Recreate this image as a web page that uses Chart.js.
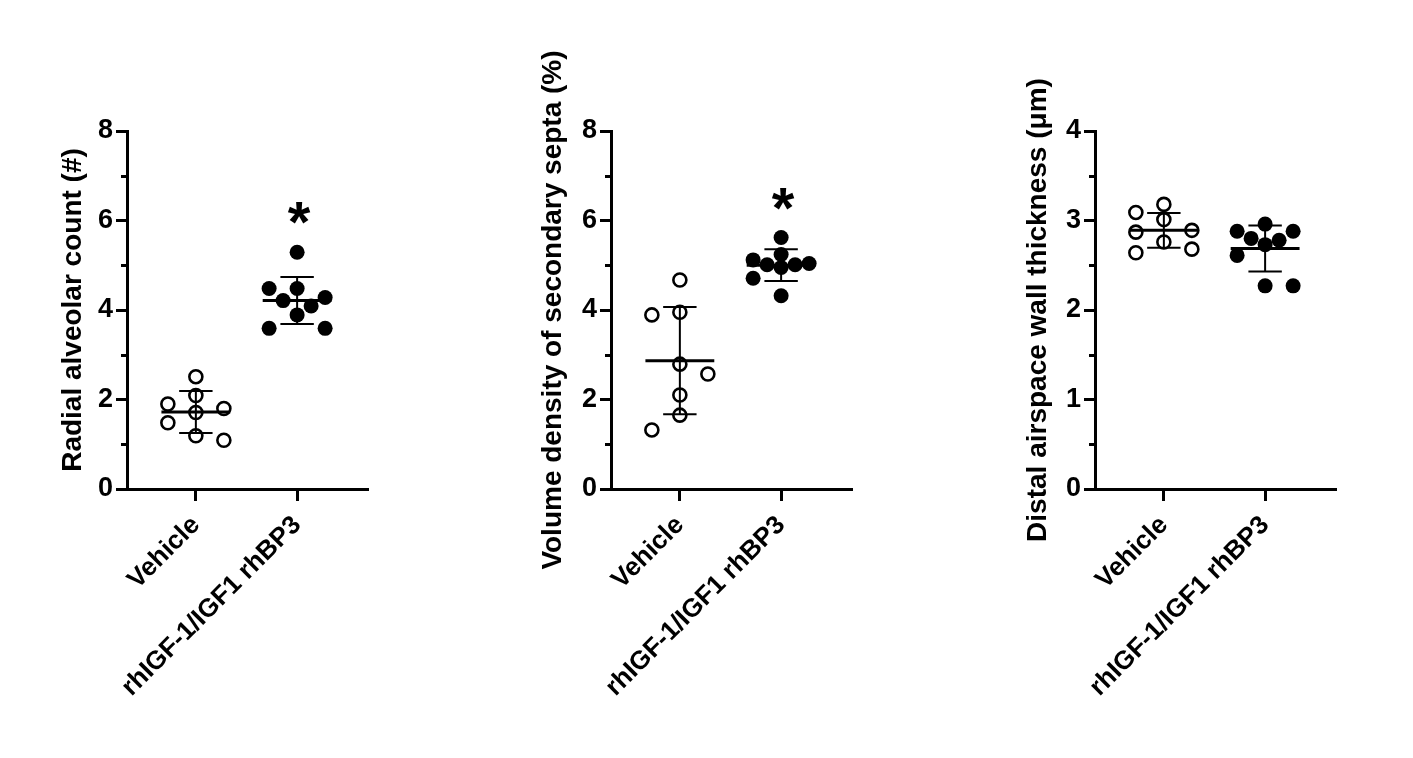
<!DOCTYPE html>
<html>
<head>
<meta charset="utf-8">
<script src="https://cdn.jsdelivr.net/npm/chart.js@4.4.0/dist/chart.umd.min.js"></script>
<style>
  html, body { margin: 0; padding: 0; background: #fff; }
  #wrap { position: relative; width: 1413px; height: 758px; overflow: hidden; }
  #wrap canvas { position: absolute; top: 0; display: block; }
</style>
</head>
<body>
<div id="wrap">
  <canvas id="c0" width="471" height="758" style="left:0px"></canvas>
  <canvas id="c1" width="471" height="758" style="left:471px"></canvas>
  <canvas id="c2" width="471" height="758" style="left:942px"></canvas>
</div>
<script>
// Data
const groups = ['Vehicle', 'rhIGF-1/IGF1 rhBP3'];

const radialVehicle = [2.51, 1.90, 2.09, 1.80, 1.71, 1.48, 1.09, 1.19];
const radialTreated = [5.29, 4.48, 4.48, 4.28, 4.21, 4.09, 3.89, 3.59, 3.59];

const septaVehicle = [4.67, 3.95, 3.89, 2.79, 2.57, 2.10, 1.65, 1.32];
const septaTreated = [5.62, 5.24, 5.12, 4.95, 5.04, 5.01, 5.01, 4.71, 4.32];

const wallVehicle = [3.18, 3.09, 3.01, 2.89, 2.87, 2.76, 2.68, 2.64];
const wallTreated = [2.96, 2.88, 2.88, 2.80, 2.78, 2.73, 2.61, 2.27, 2.27];

const yTitles = [
    'Radial alveolar count (#)',
    'Volume density of secondary septa (%)',
    'Distal airspace wall thickness (\u03bcm)'
];
const yMax = [8, 8, 4];
const yMajorStep = [2, 2, 1];
const significant = [true, true, false];

// Layout (pixels on the page)
const CANVAS_W = 471, CANVAS_H = 758;
const PLOT_TOP = 131, PLOT_BOTTOM = 489, PLOT_W = 241;
const X_MIN = 0.32, X_MAX = 2.70;
const panels = [
    { left: 0,   axisX: 127,  titleX: 73 },
    { left: 471, axisX: 611,  titleX: 553 },
    { left: 942, axisX: 1095, titleX: 1038 }
];
const FONT = "'Liberation Sans', Arial, sans-serif";
const yTickFont = { family: FONT, size: 27, weight: 'bold' };
const xTickFont = { family: FONT, size: 26, weight: 'bold' };
const titleFont = { family: FONT, size: 28, weight: 'bold', lineHeight: 1.2 };

const mean = a => a.reduce((s, v) => s + v, 0) / a.length;
const sd = a => {
    const m = mean(a);
    return Math.sqrt(a.reduce((s, v) => s + (v - m) * (v - m), 0) / (a.length - 1));
};

// straight black segment as its own dataset
const segment = (x1, y1, x2, y2, w) => ({
    data: [{ x: x1, y: y1 }, { x: x2, y: y2 }],
    showLine: true,
    borderColor: '#000',
    borderWidth: w,
    pointRadius: 0,
    pointHoverRadius: 0,
    order: 1
});

const summaryLines = (vals, c) => {
    const m = mean(vals), s = sd(vals);
    return [
        segment(c - 0.34, m, c + 0.34, m, 3),
        segment(c, m - s, c, m + s, 2),
        segment(c - 0.165, m + s, c + 0.165, m + s, 2),
        segment(c - 0.165, m - s, c + 0.165, m - s, 2)
    ];
};

// minor ticks between labelled ones + significance star
const extrasPlugin = {
    id: 'extras',
    afterDraw(chart, args, opts) {
        const ctx = chart.ctx;
        const ys = chart.scales.y, xs = chart.scales.x;
        const left = chart.chartArea.left;
        ctx.save();
        ctx.strokeStyle = '#000';
        ctx.lineWidth = 3;
        for (let v = opts.step / 2; v < opts.max; v += opts.step) {
            const py = Math.round(ys.getPixelForValue(v)) + 0.5;
            ctx.beginPath();
            ctx.moveTo(left - 6, py);
            ctx.lineTo(left, py);
            ctx.stroke();
        }
        if (opts.star) {
            const top = Math.max(...opts.treated);
            const px = xs.getPixelForValue(2);
            const py = ys.getPixelForValue(top) - 40;
            ctx.fillStyle = '#000';
            ctx.font = 'bold 58px ' + FONT;
            ctx.textAlign = 'center';
            ctx.textBaseline = 'alphabetic';
            ctx.fillText('*', px + 2, py + 30);
        }
        ctx.restore();
    }
};

// spread points sideways (two slots each way at most) so markers do not pile up
function swarm(chart, dsIndex, centre) {
    const xs = chart.scales.x, ys = chart.scales.y;
    const pxPerX = xs.getPixelForValue(1) - xs.getPixelForValue(0);
    const pts = chart.data.datasets[dsIndex].data;
    const STEP = 14, GAP = 15;
    const levels = [[0], [-2, 2], [-1, 1]];
    const placed = [];
    const minDist = (px, py) => placed.reduce((m, q) => Math.min(m, Math.hypot(q.px - px, q.py - py)), Infinity);
    const sideCount = sign => placed.filter(q => Math.sign(q.px) === sign).length;
    const idx = pts.map((p, i) => i).sort((a, b) => pts[b].y - pts[a].y);
    idx.forEach(i => {
        const py = ys.getPixelForValue(pts[i].y);
        let chosen = null, fallback = 0, fallbackDist = -1;
        for (const level of levels) {
            const free = level.filter(s => minDist(s * STEP, py) >= GAP);
            level.forEach(s => {
                const d = minDist(s * STEP, py);
                if (d > fallbackDist) { fallbackDist = d; fallback = s; }
            });
            if (free.length) {
                free.sort((a, b) => sideCount(Math.sign(a)) - sideCount(Math.sign(b)));
                chosen = free[0];
                break;
            }
        }
        if (chosen === null) chosen = fallback;
        placed.push({ px: chosen * STEP, py });
        pts[i].x = centre + chosen * STEP / pxPerX;
    });
}

function makePanel(i, vehicle, treated) {
    const L = panels[i];
    const ctx = document.getElementById('c' + i).getContext('2d');
    const chart = new Chart(ctx, {
        type: 'scatter',
        data: {
            datasets: [
                {
                    data: vehicle.map(v => ({ x: 1, y: v })),
                    pointRadius: 6.5,
                    pointBorderWidth: 2.6,
                    pointBackgroundColor: '#fff',
                    pointBorderColor: '#000',
                    order: 2
                },
                {
                    data: treated.map(v => ({ x: 2, y: v })),
                    pointRadius: 7.5,
                    pointBorderWidth: 0,
                    pointBackgroundColor: '#000',
                    pointBorderColor: '#000',
                    order: 2
                },
                ...summaryLines(vehicle, 1),
                ...summaryLines(treated, 2)
            ]
        },
        options: {
            responsive: false,
            animation: false,
            events: [],
            layout: {
                padding: { top: PLOT_TOP, right: CANVAS_W - (L.axisX - L.left) - PLOT_W, left: 0, bottom: 0 }
            },
            plugins: {
                legend: { display: false },
                tooltip: { enabled: false },
                extras: { step: yMajorStep[i], max: yMax[i], star: significant[i], treated: treated }
            },
            scales: {
                x: {
                    type: 'linear',
                    min: X_MIN,
                    max: X_MAX,
                    afterFit: s => { s.height = CANVAS_H - PLOT_BOTTOM; },
                    afterBuildTicks: s => { s.ticks = groups.map((g, j) => ({ value: j + 1 })); },
                    ticks: {
                        autoSkip: false,
                        minRotation: 45,
                        maxRotation: 45,
                        padding: 9,
                        color: '#000',
                        font: xTickFont,
                        callback: v => groups[v - 1]
                    },
                    grid: { drawOnChartArea: false, tickLength: 12, tickWidth: 3, tickColor: '#000' },
                    border: { color: '#000', width: 3 }
                },
                y: {
                    min: 0,
                    max: yMax[i],
                    afterFit: s => { s.width = L.axisX - L.left; },
                    ticks: { stepSize: yMajorStep[i], padding: 3, color: '#000', font: yTickFont },
                    grid: { drawOnChartArea: false, tickLength: 11, tickWidth: 3, tickColor: '#000' },
                    border: { color: '#000', width: 3 },
                    title: {
                        display: true,
                        text: yTitles[i],
                        color: '#000',
                        font: titleFont,
                        padding: { top: L.titleX - L.left - 16.8, bottom: 0 }
                    }
                }
            }
        },
        plugins: [extrasPlugin]
    });
    swarm(chart, 0, 1);
    swarm(chart, 1, 2);
    chart.update('none');
    return chart;
}

makePanel(0, radialVehicle, radialTreated);
makePanel(1, septaVehicle, septaTreated);
makePanel(2, wallVehicle, wallTreated);
</script>
</body>
</html>
